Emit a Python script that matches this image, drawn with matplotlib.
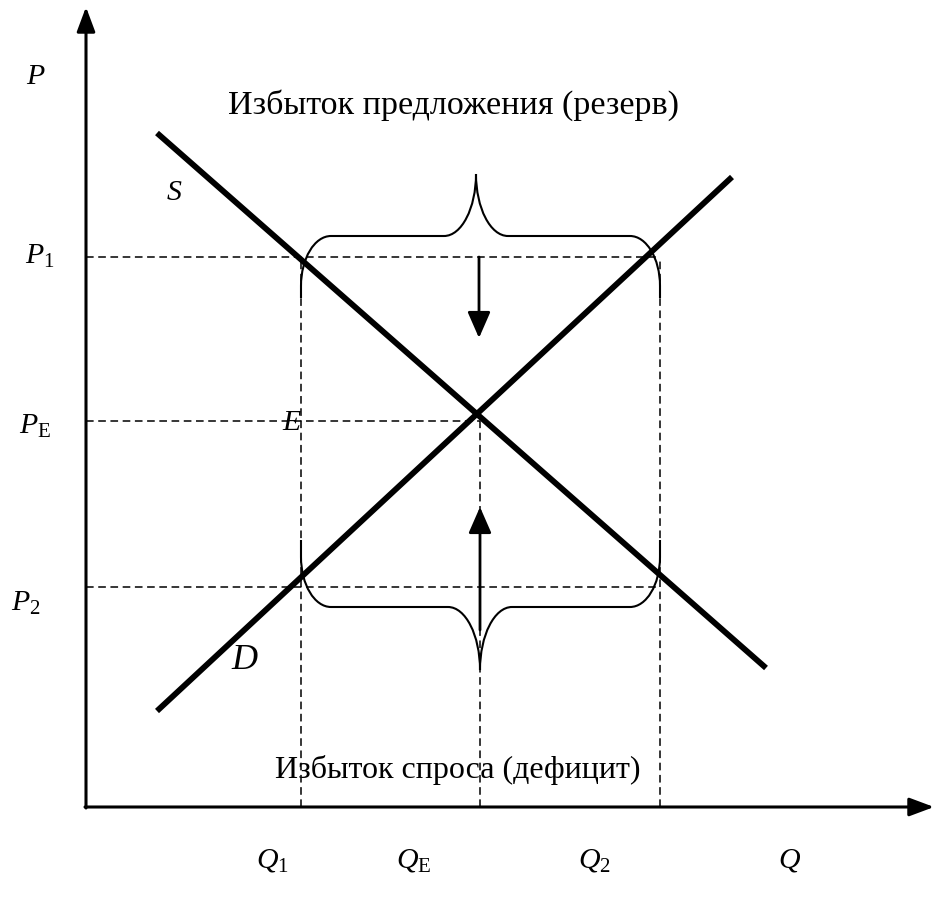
import matplotlib.pyplot as plt
from matplotlib.path import Path
from matplotlib.patches import PathPatch

plt.rcParams['font.family'] = 'Liberation Serif'
plt.rcParams['mathtext.fontset'] = 'custom'
plt.rcParams['mathtext.rm'] = 'Liberation Serif'
plt.rcParams['mathtext.it'] = 'Liberation Serif:italic'

# --- data (quantity / price levels, in diagram units) ---
q_levels = [215, 394, 574]          # Q1, QE, Q2
p_levels = [550, 386, 220]          # P1, PE, P2
supply_q = [71, 680]
supply_p = [674, 139]
demand_q = [71, 646]
demand_p = [96, 630]
q_labels = [r'$Q_{\mathrm{1}}$', r'$Q_{\mathrm{E}}$', r'$Q_{\mathrm{2}}$', r'$Q$']
p_labels = [r'$P$', r'$P_{\mathrm{1}}$', r'$P_{\mathrm{E}}$', r'$P_{\mathrm{2}}$']
surplus_text = 'Избыток предложения (резерв)'
shortage_text = 'Избыток спроса (дефицит)'

Q1, QE, Q2 = q_levels
P1, PE, P2 = p_levels


def brace_path(xa, xb, xm, y_end, y_flat, y_tip, rx=30, ry=50, w=32):
    e = 1 if y_end > y_flat else -1
    t = 1 if y_tip > y_flat else -1
    h = abs(y_tip - y_flat)
    k = 0.55
    verts = [
        (xa, y_end), (xa, y_flat + e * ry),
        (xa, y_flat + e * ry * (1 - k)), (xa + rx * (1 - k), y_flat), (xa + rx, y_flat),
        (xm - w, y_flat),
        (xm - w * (1 - k), y_flat), (xm, y_flat + t * h * (1 - k)), (xm, y_tip),
        (xm, y_flat + t * h * (1 - k)), (xm + w * (1 - k), y_flat), (xm + w, y_flat),
        (xb - rx, y_flat),
        (xb - rx * (1 - k), y_flat), (xb, y_flat + e * ry * (1 - k)), (xb, y_flat + e * ry),
        (xb, y_end),
    ]
    C = Path.CURVE4
    codes = [Path.MOVETO, Path.LINETO, C, C, C, Path.LINETO, C, C, C, C, C, C,
             Path.LINETO, C, C, C, Path.LINETO]
    return Path(verts, codes)


fig = plt.figure(figsize=(9.34, 8.97), dpi=100)
ax = fig.add_axes([0, 0, 1, 1])
ax.set_xlim(-86, 848)
ax.set_ylim(-90, 807)
ax.axis('off')

# axes with arrows
ax_arrow = dict(arrowstyle='-|>,head_length=0.75,head_width=0.28',
                lw=2.2, color='black', mutation_scale=20, shrinkA=0, shrinkB=0)
ax.annotate('', xy=(0, 800), xytext=(0, -1), arrowprops=ax_arrow)
ax.annotate('', xy=(848, 0), xytext=(-1, 0), arrowprops=ax_arrow)

# dashed guide lines
dash = dict(color='black', lw=1.1, ls=(0, (5, 3)))
ax.plot([0, Q2], [P1, P1], **dash)
ax.plot([0, QE], [PE, PE], **dash)
ax.plot([0, Q2], [P2, P2], **dash)
ax.plot([Q1, Q1], [0, P1], **dash)
ax.plot([Q2, Q2], [0, P1], **dash)
ax.plot([QE, QE], [0, PE], **dash)

# supply and demand lines
ax.plot(supply_q, supply_p, color='black', lw=4.2, solid_capstyle='butt')
ax.plot(demand_q, demand_p, color='black', lw=4.2, solid_capstyle='butt')

# braces
ax.add_patch(PathPatch(brace_path(Q1, Q2, 390, 509, 571, 633), fill=False, lw=1.5, ec='black'))
ax.add_patch(PathPatch(brace_path(Q1, Q2, 394, 267, 200, 137), fill=False, lw=1.5, ec='black'))

# pressure arrows
arr = dict(arrowstyle='-|>,head_length=0.8,head_width=0.35', lw=2.0, color='black',
           mutation_scale=20, shrinkA=0, shrinkB=0)
ax.annotate('', xy=(393, 469), xytext=(393, P1), arrowprops=arr)
ax.annotate('', xy=(394, 300), xytext=(394, 177), arrowprops=arr)

# labels
fs = 21.5
ax.text(-50, 730, p_labels[0], fontsize=fs, ha='center', va='center')
ax.text(-46, 551, p_labels[1], fontsize=fs, ha='center', va='center')
ax.text(-51, 381, p_labels[2], fontsize=fs, ha='center', va='center')
ax.text(-60, 204, p_labels[3], fontsize=fs, ha='center', va='center')
for x, lab in zip([186, 328, 508, 704], q_labels):
    ax.text(x, -53, lab, fontsize=fs, ha='center', va='center')

ax.text(88, 614, r'$S$', fontsize=fs, ha='center', va='center')
ax.text(159, 147, r'$D$', fontsize=26, ha='center', va='center')
ax.text(206, 384, r'$E$', fontsize=fs, ha='center', va='center')

ax.text(367, 702, surplus_text, fontsize=24.5, ha='center', va='center')
ax.text(372, 37, shortage_text, fontsize=23, ha='center', va='center')

fig.savefig('out.png', dpi=100)
